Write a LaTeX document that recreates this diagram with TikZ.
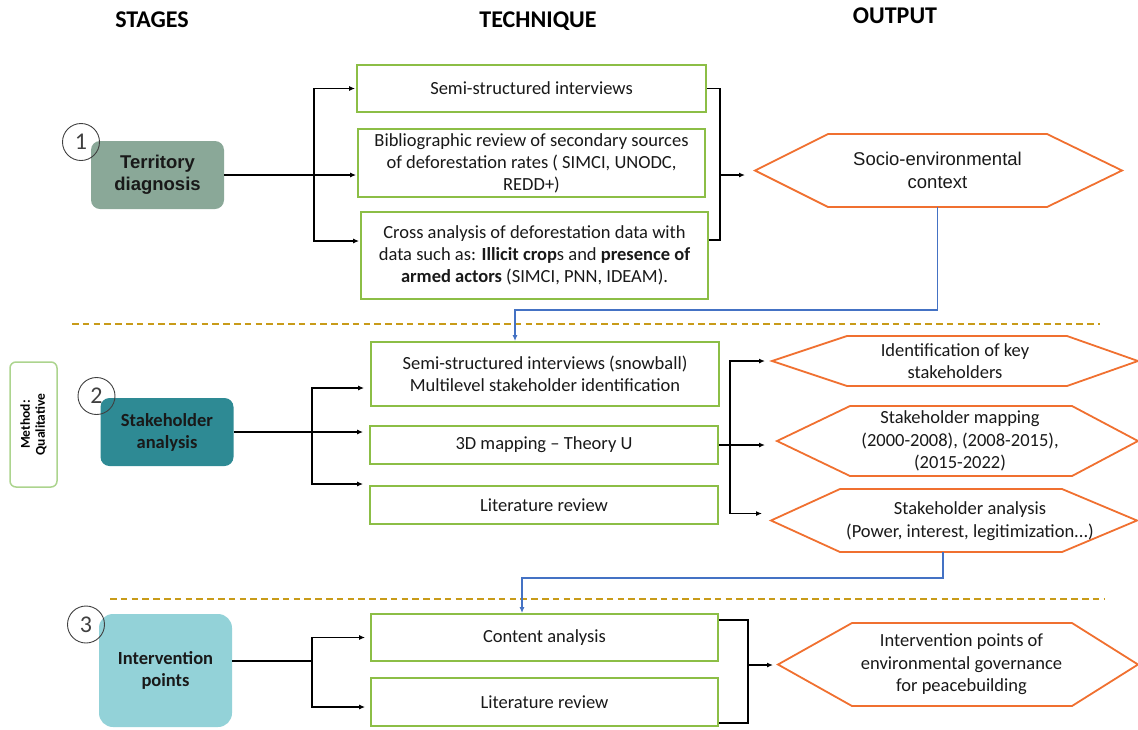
\documentclass[tikz,border=0pt]{standalone}
\usepackage{fontspec}
\setmainfont{Carlito}
\newfontfamily\arialfont{Liberation Sans}
\usetikzlibrary{arrows.meta, positioning, calc}
\definecolor{techgreen}{RGB}{140,190,70}
\definecolor{hexorange}{RGB}{240,112,48}
\definecolor{feedblue}{RGB}{68,114,196}
\definecolor{sepgold}{RGB}{200,155,25}
\definecolor{methgreen}{RGB}{172,212,142}
\definecolor{stageone}{RGB}{138,168,152}
\definecolor{stagetwo}{RGB}{46,138,148}
\definecolor{stagethree}{RGB}{147,210,216}

\begin{document}
\begin{tikzpicture}[x=1pt, y=-1pt,
		techbox/.style={draw=techgreen, line width=1.8pt, fill=white, align=center, inner sep=2pt, text=black!90, font=\fontsize{18.5}{22}\selectfont},
		stagebox/.style={rounded corners=9pt, minimum width=133pt, minimum height=68pt, align=center, text=black!90, font=\bfseries\fontsize{18.5}{22}\selectfont},
		numcirc/.style={circle, draw=black!75, line width=0.9pt, minimum size=37pt, inner sep=0pt, text=black!75, font=\fontsize{24}{24}\selectfont},
		header/.style={text=black, font=\bfseries\fontsize{24}{28}\selectfont},
		outtext/.style={align=center, text=black!90, font=\fontsize{18.5}{22.5}\selectfont},
		hexline/.style={draw=hexorange, line width=1.8pt, line join=miter},
		link/.style={line width=1.4pt},
		arr/.style={link, -{Latex[length=6pt, width=5pt]}},
		feed/.style={draw=feedblue, line width=1.4pt, -{Latex[length=6pt, width=5pt]}},
		sepline/.style={draw=sepgold, line width=1.8pt, dash pattern=on 6.5pt off 4.3pt}
	]
	\useasboundingbox (0,0) rectangle (1138,729);

	% column headers
	\node[header] (hstage) at (152,20) {STAGES};
	\node[header] (htech) at (538,21) {TECHNIQUE};
	\node[header] (hout) at (895,16) {OUTPUT};

	% stages
	\node[stagebox, fill=stageone, font=\arialfont\bfseries\fontsize{18.5}{22}\selectfont] (s1) at (157.5,175) {Territory\\diagnosis};
	\node[stagebox, fill=stagetwo] (s2) at (167,432) {Stakeholder\\analysis};
	\node[stagebox, fill=stagethree, rounded corners=14pt, minimum height=113pt] (s3) at (165.5,670.5) {Intervention\\points};
	\node[numcirc] (n1) at (81,142) {1};
	\node[numcirc] (n2) at (96.5,396) {2};
	\node[numcirc] (n3) at (86,624.5) {3};
	\node[draw=methgreen, line width=1.5pt, rounded corners=6pt, rotate=90, minimum width=125pt, minimum height=47pt, align=center, font=\bfseries\fontsize{13.5}{15}\selectfont] (meth) at (33.5,424.5) {Method:\\Qualitative};

	% techniques
	\node[techbox, minimum width=349pt, minimum height=47pt] (t1a) at (531.5,88.5) {Semi-structured interviews};
	\node[techbox, minimum width=347pt, minimum height=68pt] (t1b) at (531.5,163) {Bibliographic review of secondary sources\\of deforestation rates ( SIMCI, UNODC,\\REDD+)};
	\node[techbox, minimum width=347pt, minimum height=87pt] (t1c) at (534.5,255.5) {Cross analysis of deforestation data with\\data such as: \textbf{Illicit crop}s and \textbf{presence of}\\\textbf{armed actors} (SIMCI, PNN, IDEAM).};
	\node[techbox, minimum width=348pt, minimum height=64pt] (t2a) at (545,374) {Semi-structured interviews (snowball)\\Multilevel stakeholder identification};
	\node[techbox, minimum width=348pt, minimum height=38pt] (t2b) at (544,445) {3D mapping -- Theory U};
	\node[techbox, minimum width=348pt, minimum height=38pt] (t2c) at (544,505) {Literature review};
	\node[techbox, minimum width=347pt, minimum height=47pt] (t3a) at (544.5,637.5) {Content analysis};
	\node[techbox, minimum width=347pt, minimum height=48pt] (t3b) at (544.5,702) {Literature review};

	% outputs: name / core centre x / centre y / half core width / half height / left point / right point
	\foreach \n/\x/\y/\cw/\hh/\lp/\rp in {o1/937.5/170.5/109.5/36.5/73/75, o2a/957/361/110/25/75/71, o2b/961/441/111/35/73/66, o2c/951/520.5/111/31.5/69/75, o3/962/664.5/110/41.5/74/66}{
		\coordinate (\n-w) at ({\x-\cw-\lp},\y);
		\coordinate (\n-s) at (\x,{\y+\hh});
		\draw[hexline] (\n-w) -- ({\x-\cw},{\y-\hh}) -- ({\x+\cw},{\y-\hh}) -- ({\x+\cw+\rp},\y) -- ({\x+\cw},{\y+\hh}) -- ({\x-\cw},{\y+\hh}) -- cycle;
	}
	\node[outtext, font=\arialfont\fontsize{18.5}{23}\selectfont] (o1) at (937.5,170.5) {Socio-environmental\\context};
	\node[outtext] (o2a) at (955,361) {Identification of key\\stakeholders};
	\node[outtext] (o2b) at (960,441) {Stakeholder mapping\\(2000-2008), (2008-2015),\\(2015-2022)};
	\node[outtext] (o2c) at (970,521) {Stakeholder analysis\\(Power, interest, legitimization...)};
	\node[outtext] (o3) at (961.5,664.5) {Intervention points of\\environmental governance\\for peacebuilding};

	% separators
	\draw[sepline] (72,324) -- (1100,324);
	\draw[sepline] (110,599) -- (1105,599);

	% stage 1 links
	\coordinate (b1) at (314,175);
	\coordinate (m1) at (720,175);
	\draw[link] (s1.east) -- (b1);
	\draw[arr, shorten >=1pt] (b1) |- (t1a.west);
	\draw[arr, shorten >=1pt] (b1) -- (b1 -| t1b.west);
	\draw[arr, shorten >=1pt] (b1) |- ($(t1c.west)+(0,-14.5)$);
	\draw[link] (t1a.east) -| (m1);
	\draw[link] ($(t1c.east)+(0,-15.5)$) -| (m1);
	\draw[arr, shorten >=10pt] (m1) -- (m1 -| o1-w);
	\coordinate (f1) at (515,310);
	\draw[feed] (o1-s) |- (f1) -- (f1 |- t2a.north);

	% stage 2 links
	\coordinate (b2) at (312,432);
	\coordinate (m2) at (730,445);
	\draw[link] (s2.east) -- (b2);
	\draw[arr, shorten >=6pt] (b2) |- ($(t2a.west)+(0,14)$);
	\draw[arr, shorten >=6pt] (b2) -- (b2 -| t2b.west);
	\draw[arr, shorten >=6pt] (b2) |- ($(t2c.west)+(0,-21)$);
	\draw[link] (t2b.east) -- (m2);
	\draw[arr, shorten >=7pt] (m2) |- (o2a-w);
	\draw[arr, shorten >=12pt] (m2) -- (m2 -| o2b-w);
	\draw[arr, shorten >=9pt] (m2) |- ($(o2c-w)+(0,-7)$);
	\coordinate (f2) at (522,578);
	\draw[feed] ($(o2c-s)+(-8,0)$) |- (f2) -- (f2 |- t3a.north);

	% stage 3 links
	\coordinate (b3) at (312,661);
	\coordinate (m3) at (748,665);
	\draw[link] (s3.east |- b3) -- (b3);
	\draw[arr, shorten >=5pt] (b3) |- (t3a.west);
	\draw[arr, shorten >=5pt] (b3) |- ($(t3b.west)+(0,5)$);
	\draw[link] ($(t3a.east)+(0,-17.5)$) -| (m3);
	\draw[link] ($(t3b.east)+(0,21)$) -| (m3);
	\draw[arr, shorten >=5pt] (m3) -- (m3 -| o3-w);
\end{tikzpicture}
\end{document}
